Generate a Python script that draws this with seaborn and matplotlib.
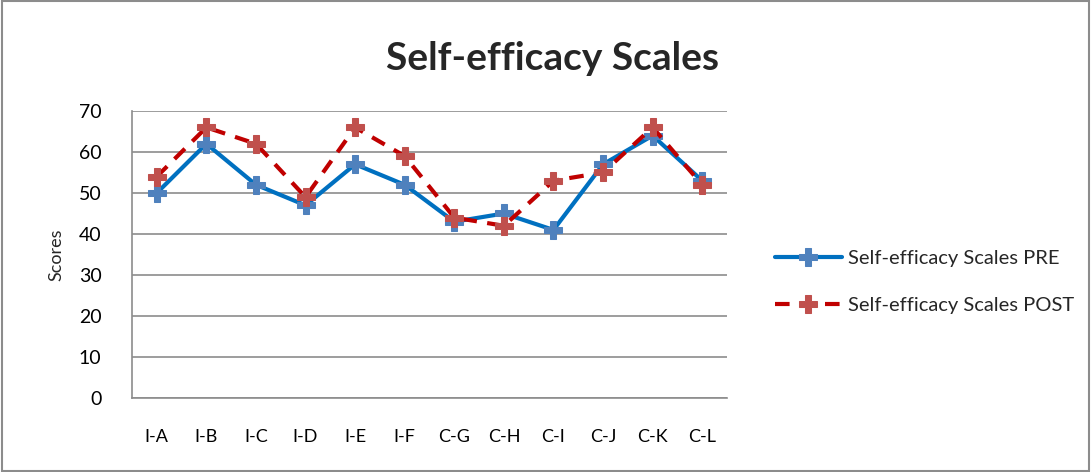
import pandas as pd
import matplotlib.pyplot as plt
import seaborn as sns
from matplotlib.patches import Rectangle

groups = ["I-A", "I-B", "I-C", "I-D", "I-E", "I-F", "C-G", "C-H", "C-I", "C-J", "C-K", "C-L"]
pre_scores = [50, 62, 52, 47, 57, 52, 43, 45, 41, 57, 64, 53]
post_scores = [54, 66, 62, 49, 66, 59, 44, 42, 53, 55, 66, 52]
series_names = ["Self-efficacy Scales PRE", "Self-efficacy Scales POST"]

df = pd.DataFrame({
    "group": groups * 2,
    "score": pre_scores + post_scores,
    "series": [series_names[0]] * len(groups) + [series_names[1]] * len(groups),
})

sns.set_theme(style="white")
plt.rcParams['font.family'] = ['Lato', 'DejaVu Sans']

fig = plt.figure(figsize=(10.91, 4.72), dpi=100)
ax = fig.add_axes([132 / 1091, 1 - 398 / 472, (727 - 132) / 1091, (398 - 111) / 472])

line_colors = {series_names[0]: "#0070C0", series_names[1]: "#C00000"}
marker_colors = {series_names[0]: "#4F81BD", series_names[1]: "#C0504D"}

for name in series_names:
    sub = df[df["series"] == name]
    sns.lineplot(data=sub, x="group", y="score", ax=ax, color=line_colors[name],
                 linewidth=3, linestyle="-" if name == series_names[0] else (0, (3.5, 2.5)),
                 marker="P", markersize=13, markerfacecolor=marker_colors[name],
                 markeredgecolor=marker_colors[name], label=name, sort=False)

ax.set_ylim(0, 70)
ax.set_yticks(range(0, 71, 10))
ax.set_xlim(-0.5, len(groups) - 0.5)
ax.yaxis.grid(True, color="#8c8c8c", linewidth=1.2)
ax.xaxis.grid(False)
for side in ["top", "right"]:
    ax.spines[side].set_visible(False)
ax.spines["left"].set_color("#8c8c8c")
ax.spines["bottom"].set_color("#8c8c8c")
ax.spines["left"].set_linewidth(1.2)
ax.spines["bottom"].set_linewidth(1.2)
ax.tick_params(axis="y", labelsize=14, pad=22, length=0, colors="black")
ax.tick_params(axis="x", labelsize=13, pad=22, length=0, colors="black")
ax.set_xlabel("")
ax.set_ylabel("Scores", fontsize=13, labelpad=10)

fig.text(553 / 1091, 1 - 58 / 472, "Self-efficacy Scales", fontsize=28, fontweight="bold",
         ha="center", va="center")

ax.legend(loc="center left", bbox_to_anchor=(757 / 1091, 1 - 282 / 472), bbox_transform=fig.transFigure,
          frameon=False, fontsize=14.5, handlelength=3.3, labelspacing=1.45, handletextpad=0.3)

fig.patches.append(Rectangle((0.002, 0.003), 0.996, 0.994, transform=fig.transFigure,
                             fill=False, edgecolor="#8c8c8c", linewidth=1.5))

plt.savefig("out.png", dpi=100)
plt.close()
